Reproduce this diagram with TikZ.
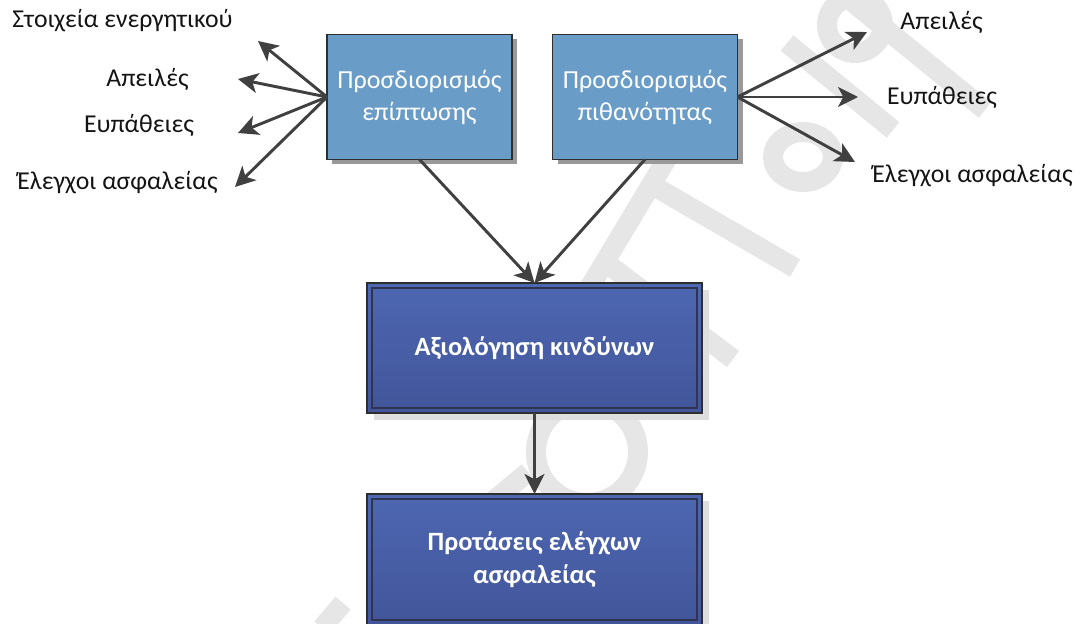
\documentclass[tikz,border=0pt]{standalone}
\usepackage{fontspec}
\setmainfont{Carlito}
\usetikzlibrary{arrows.meta,calc,backgrounds}
\definecolor{arrowgray}{HTML}{404040}
\definecolor{paleblue}{HTML}{6A9CC8}
\definecolor{deeptop}{HTML}{4D67B1}
\definecolor{deepbot}{HTML}{42559A}
\definecolor{wmgray}{HTML}{E6E6E6}
\definecolor{edgecol}{HTML}{2E2E2E}
\definecolor{inneredge}{HTML}{2F3550}

\begin{document}
\begin{tikzpicture}[x=0.75pt,y=-0.75pt,
  lightbox/.style={draw=edgecol, line width=0.9pt, fill=paleblue,
    minimum width=138.75pt, minimum height=93.75pt, inner sep=0pt, outer sep=0pt,
    text=white, align=center, font=\fontsize{19.5}{24}\selectfont},
  darkbox/.style={draw=edgecol, line width=0.8pt, top color=deeptop, bottom color=deepbot,
    minimum width=251.25pt, minimum height=97.5pt, inner sep=0pt, outer sep=0pt,
    text=white, align=center, font=\fontsize{19.8}{25}\selectfont\bfseries},
  lbl/.style={anchor=base, font=\fontsize{19.3}{22}\selectfont, text=black!92, inner sep=0pt},
  conn/.style={draw=arrowgray, line width=2.2pt,
    -{Stealth[length=15pt, width=15pt, inset=4pt]}},
  wm/.style={draw=wmgray, line width=15pt},
]
\useasboundingbox (0,0) rectangle (1084,624);

% boxes
\node[lightbox] (imp)  at (419.5,97) {Προσδιορισμός\\επίπτωσης};
\node[lightbox] (prob) at (645,97)   {Προσδιορισμός\\πιθανότητας};
\node[darkbox] (risk) at (534.5,348) {Αξιολόγηση κινδύνων};
\node[darkbox, minimum height=98.25pt] (prop) at (534.5,559.5) {Προτάσεις ελέγχων\\ασφαλείας};

% inner frames of the dark boxes
\foreach \b in {risk,prop}
  \draw[inneredge, line width=1pt] ($(\b.north west)+(5,5)$) rectangle ($(\b.south east)+(-5,-5)$);

% faint watermark strokes and box shadows
\begin{scope}[on background layer]
  \draw[wm] (322,628) -- (343,603);
  \draw[wm] (480,512) -- (528,472);
  \draw[wm] (587,452) circle[radius=51];
  \draw[wm] (588,290) -- (672,150);
  \draw[wm] (605,262) -- (733,359);
  \draw[wm] (652,185) -- (795,268);
  \draw[wm] (803,157) ellipse[x radius=30, y radius=25];
  \draw[wm] (787,43) -- (893,130);
  \draw[wm] (855,25) circle[radius=28];
  \draw[wm] (850,0) -- (985,110);
  \foreach \b in {imp,prob}
    \fill[black!40] ($(\b.north west)+(5,5)$) rectangle ($(\b.south east)+(5,5)$);
  \foreach \b in {risk,prop}
    \fill[black!13] ($(\b.north west)+(7,7)$) rectangle ($(\b.south east)+(7,7)$);
\end{scope}

% labels
\node[lbl] (lA) at (122.5,28) {Στοιχεία ενεργητικού};
\node[lbl] (lB) at (147.5,87) {Απειλές};
\node[lbl] (lC) at (139,133)  {Ευπάθειες};
\node[lbl] (lD) at (117.5,189) {Έλεγχοι ασφαλείας};
\node[lbl] (rA) at (941.5,30) {Απειλές};
\node[lbl] (rB) at (942,105)  {Ευπάθειες};
\node[lbl] (rC) at (972.5,182) {Έλεγχοι ασφαλείας};

% arrow tips beside the labels
\coordinate (tA) at (258,41);
\coordinate (tB) at (238,79);
\coordinate (tC) at (238,133);
\coordinate (tD) at (235,187);
\coordinate (uA) at (867,32);
\coordinate (uB) at (858,97);
\coordinate (uC) at (855,162);

% connectors
\foreach \t in {tA,tB,tC,tD} \draw[conn] (imp.west) -- (\t);
\foreach \t in {uA,uB,uC} \draw[conn] (prob.east) -- (\t);
\draw[conn] (imp.south) -- (risk.north);
\draw[conn] (prob.south) -- (risk.north);
\draw[conn] (risk.south) -- (prop.north);
\end{tikzpicture}
\end{document}
